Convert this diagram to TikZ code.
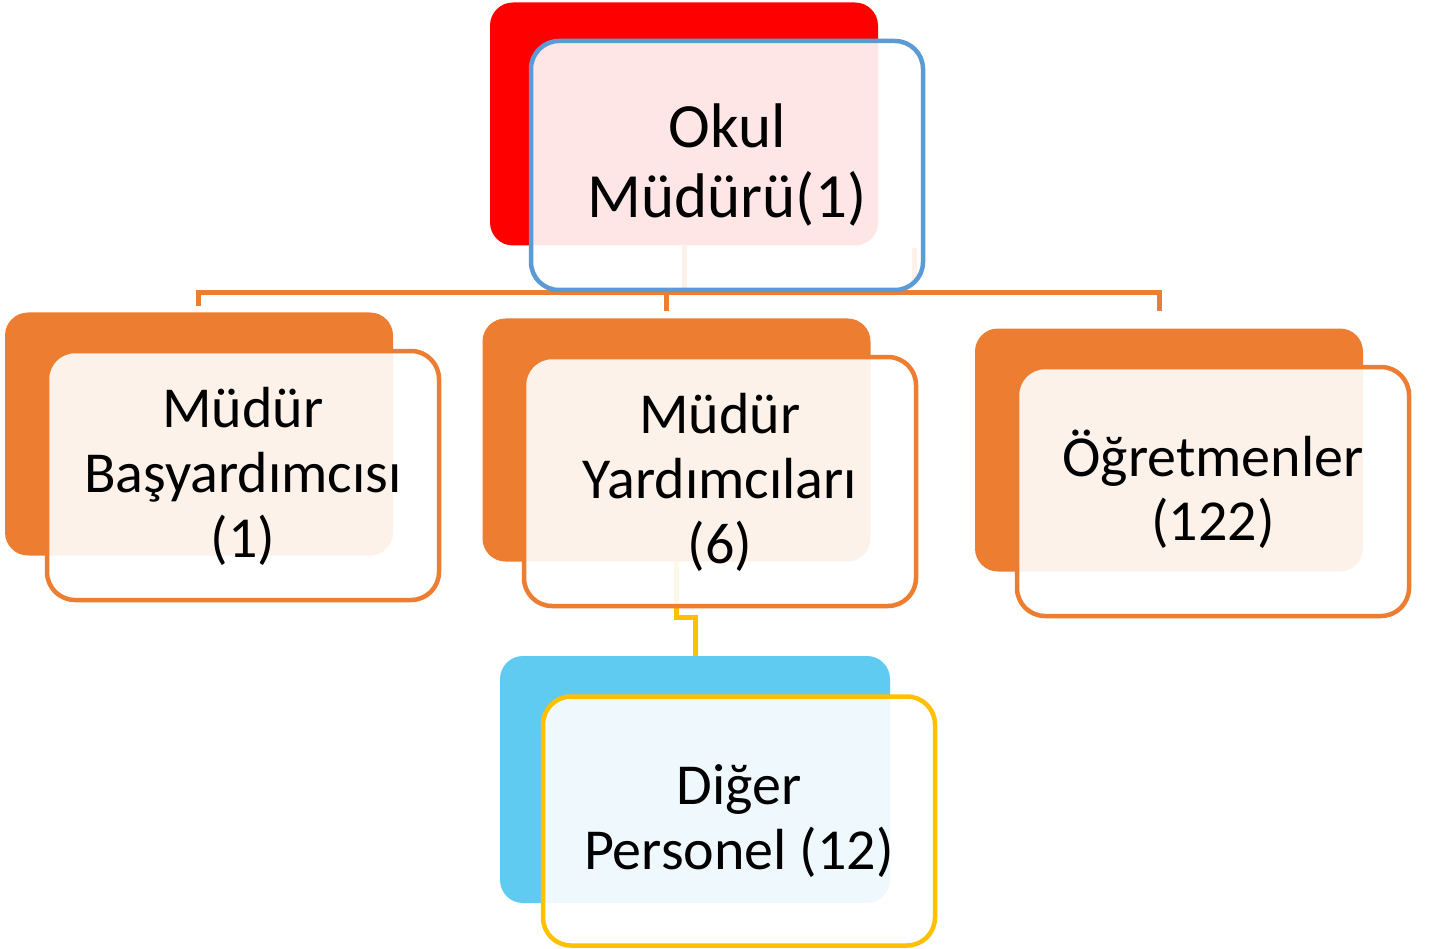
\documentclass[tikz,border=0pt]{standalone}
\usepackage{fontspec}
\setmainfont{Carlito}
\definecolor{cRed}{HTML}{FF0000}
\definecolor{cOrange}{HTML}{ED7D31}
\definecolor{cBlue}{HTML}{5B9BD5}
\definecolor{cYellow}{HTML}{FFC000}
\definecolor{cSky}{HTML}{5FCBF1}
\tikzset{
  backbox/.style={rectangle, rounded corners=23pt, inner sep=0pt, draw=none, minimum width=388pt, minimum height=243pt},
  frontbox/.style={rectangle, rounded corners=28pt, inner sep=0pt, fill=white, fill opacity=0.9, line width=4.5pt, minimum width=392pt, minimum height=249pt},
  oconn/.style={draw=cOrange, line width=5pt, line join=miter},
  yconn/.style={draw=cYellow, line width=5pt, line join=miter},
  lblbig/.style={anchor=base, inner sep=0pt, font=\fontsize{63}{70}\selectfont},
  lbl/.style={anchor=base, inner sep=0pt, font=\fontsize{58}{65}\selectfont},
}
\begin{document}
\begin{tikzpicture}[x=1pt,y=-1pt]
\useasboundingbox[fill=white] (0,0) rectangle (1431,949);
% back boxes
\node[backbox, fill=cRed] (okulB) at (684,124) {};
\node[backbox, fill=cOrange] (mbB) at (199,434) {};
\node[backbox, fill=cOrange] (myB) at (676.5,440) {};
\node[backbox, fill=cOrange] (ogB) at (1169,450) {};
\node[backbox, fill=cSky, minimum width=390pt, minimum height=247pt] (dpB) at (695,779.5) {};
% connectors
\coordinate (bus) at (0,292.5);
\coordinate (d1) at (198.5,306);
\coordinate (d2) at (666,311);
\coordinate (d3) at (1159,311);
\coordinate (f2) at (914,248);
\coordinate (f2end) at (914,282);
\draw[oconn] (d1) -- (d1 |- bus) -- (d3 |- bus) -- (d3);
\draw[oconn] (d2) -- (d2 |- bus);
\draw[oconn] (okulB.south) -- (okulB.south |- bus);
\draw[oconn] (f2) -- (f2end);
\draw[yconn] (myB.south) -- ++(0,56) -| (dpB.north);
% front boxes
\node[frontbox, draw=cBlue] (okulF) at (727,165.5) {};
\node[frontbox, draw=cOrange] (mbF) at (243,475.5) {};
\node[frontbox, draw=cOrange] (myF) at (720,481.5) {};
\node[frontbox, draw=cOrange] (ogF) at (1213,491.5) {};
\node[frontbox, draw=cYellow] (dpF) at (739,821) {};
% texts
\node[lblbig] (okulT1) at (727,148) {Okul};
\node[lblbig] (okulT2) at (727,218) {Müdürü(1)};
\node[lbl] (mbT1) at (243,427) {Müdür};
\node[lbl] (mbT2) at (243,492) {Başyardımcısı};
\node[lbl] (mbT3) at (243,557) {(1)};
\node[lbl] (myT1) at (720,433) {Müdür};
\node[lbl] (myT2) at (720,498) {Yardımcıları};
\node[lbl] (myT3) at (720,563) {(6)};
\node[lbl] (ogT1) at (1213,476) {Öğretmenler};
\node[lbl] (ogT2) at (1213,540) {(122)};
\node[lbl] (dpT1) at (739,804) {Diğer};
\node[lbl] (dpT2) at (739,869) {Personel (12)};
\end{tikzpicture}
\end{document}
